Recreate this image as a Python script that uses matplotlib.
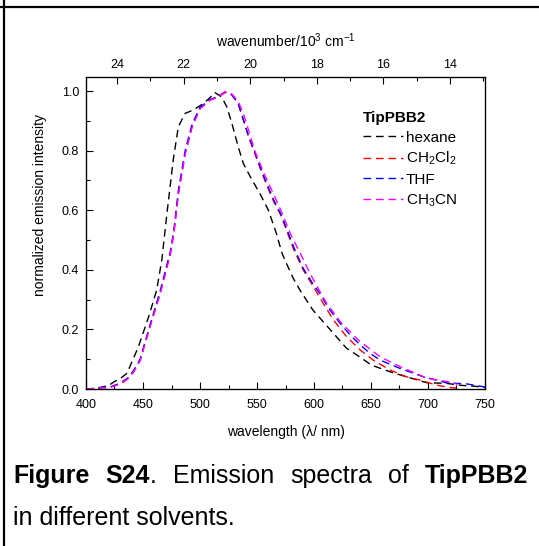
import matplotlib
matplotlib.use("Agg")
import matplotlib.pyplot as plt
from matplotlib.lines import Line2D
from matplotlib.ticker import MultipleLocator

plt.rcParams['font.family'] = ['Liberation Sans', 'DejaVu Sans']
plt.rcParams['mathtext.fontset'] = 'custom'
plt.rcParams['mathtext.rm'] = 'Liberation Sans'
plt.rcParams['mathtext.it'] = 'Liberation Sans:italic'
plt.rcParams['mathtext.bf'] = 'Liberation Sans:bold'

# ---------------- data ----------------
hex_wl = [400, 410, 420, 425, 430, 436, 446, 455, 462, 466.5, 471, 476.5, 481, 487, 494,
          503, 508, 513, 519, 523.5, 528, 533.5, 538, 544, 552.5, 560, 567, 572, 576,
          582, 588, 599, 608, 617, 628.5, 640, 650.5, 666.5, 681, 699, 716, 730, 745, 750]
hex_int = [0.0, 0.003, 0.012, 0.025, 0.035, 0.053, 0.142, 0.243, 0.332, 0.433, 0.589, 0.768,
           0.88, 0.925, 0.936, 0.958, 0.975, 0.995, 0.98, 0.947, 0.891, 0.813, 0.757, 0.713,
           0.656, 0.60, 0.522, 0.455, 0.42, 0.37, 0.33, 0.265, 0.226, 0.187, 0.137, 0.108,
           0.08, 0.058, 0.041, 0.021, 0.019, 0.012, 0.008, 0.005]

dcm_wl = [400, 410, 415, 420, 425, 428, 432, 437, 442, 447.5, 456, 465, 474, 477, 481, 487,
          493, 500, 509, 516, 522, 528, 533.5, 538, 542.5, 548, 555.5, 564, 571.5, 582,
          590.5, 599.5, 608, 617, 628.5, 640.5, 652, 666.5, 681, 693, 707.5, 719, 725]
dcm_int = [0.0, 0.002, 0.005, 0.004, 0.012, 0.015, 0.02, 0.036, 0.06, 0.097, 0.209, 0.321,
           0.455, 0.522, 0.656, 0.791, 0.88, 0.942, 0.97, 0.98, 0.995, 0.987, 0.958, 0.903,
           0.847, 0.791, 0.713, 0.634, 0.578, 0.47, 0.40, 0.343, 0.288, 0.232, 0.176, 0.131,
           0.097, 0.064, 0.041, 0.03, 0.013, 0.005, 0.003]

thf_wl = [400, 410, 415, 420, 425, 430, 437, 442, 447.5, 456, 465, 474, 477, 481, 487, 493,
          500, 509, 516, 522, 528, 533.5, 538, 542.5, 548, 555.5, 564, 571.5, 582, 590.5,
          599.5, 605, 613, 623, 632, 640.5, 649, 658, 675.5, 696, 716, 734, 748, 750]
thf_int = [0.0, 0.002, 0.006, 0.005, 0.012, 0.02, 0.038, 0.063, 0.1, 0.213, 0.328, 0.462,
           0.53, 0.665, 0.80, 0.888, 0.945, 0.972, 0.982, 0.997, 0.987, 0.958, 0.905,
           0.85, 0.795, 0.718, 0.64, 0.582, 0.478, 0.405, 0.35, 0.321, 0.27, 0.22, 0.18,
           0.148, 0.12, 0.097, 0.069, 0.041, 0.021, 0.017, 0.008, 0.006]

acn_wl = [400, 410, 415, 420, 425, 430, 437, 442, 447.5, 456, 465, 474, 477, 481, 487, 493,
          500, 509, 516, 522, 528, 533.5, 538, 542.5, 548, 556, 565, 572, 580, 588, 596.5,
          604, 611, 623, 639, 658, 675.5, 699, 712, 722, 726]
acn_int = [0.0, 0.002, 0.004, 0.004, 0.01, 0.018, 0.035, 0.058, 0.095, 0.207, 0.318, 0.452,
           0.52, 0.652, 0.788, 0.878, 0.94, 0.97, 0.98, 0.998, 0.99, 0.965, 0.925, 0.87,
           0.80, 0.725, 0.65, 0.59, 0.515, 0.455, 0.388, 0.335, 0.288, 0.226, 0.164, 0.108,
           0.075, 0.036, 0.028, 0.021, 0.015]

series_labels = ['hexane', r'$\mathregular{CH_2Cl_2}$', 'THF', r'$\mathregular{CH_3CN}$']
series_colors = ['black', 'red', 'blue', 'magenta']
x_ticks = [400, 450, 500, 550, 600, 650, 700, 750]
y_ticks = [0.0, 0.2, 0.4, 0.6, 0.8, 1.0]
top_ticks = [24, 22, 20, 18, 16, 14]

# caption words: (text pieces, bold flags) -- pieces inside one word are joined without a gap
caption_words = [[('Figure', True)], [('S24', True), ('.', False)], [('Emission', False)],
                 [('spectra', False)], [('of', False)], [('TipPBB2', True)]]
caption_line2 = 'in different solvents.'

# ---------------- figure ----------------
W, H = 539, 546
fig = plt.figure(figsize=(W / 100, H / 100), dpi=100)
L, R, T, B = 86, 485, 77, 389
ax = fig.add_axes([L / W, 1 - B / H, (R - L) / W, (B - T) / H])

data = [(hex_wl, hex_int), (dcm_wl, dcm_int), (thf_wl, thf_int), (acn_wl, acn_int)]
for (x, y), lab, c in zip(data, series_labels, series_colors):
    ax.plot(x, y, color=c, lw=1.0, linestyle=(0, (5.5, 3.5)), label=lab)

ax.set_xlim(400, 750)
ax.set_ylim(0, 1.047)
ax.set_xticks(x_ticks)
ax.set_yticks(y_ticks)
ax.set_yticklabels([f"{v:.1f}" for v in y_ticks])
ax.xaxis.set_minor_locator(MultipleLocator(25))
ax.yaxis.set_minor_locator(MultipleLocator(0.1))
ax.tick_params(which='both', direction='in', labelsize=9, width=0.8, right=False, top=False)
ax.tick_params(axis='x', pad=7)
ax.tick_params(axis='y', pad=5)
ax.tick_params(which='major', length=5)
ax.tick_params(which='minor', length=3)
for s in ax.spines.values():
    s.set_linewidth(0.9)

ax.set_xlabel('wavelength (λ/ nm)', fontsize=10, labelpad=10)
ax.set_ylabel('normalized emission intensity', fontsize=10)
ax.yaxis.set_label_coords(-0.097, 0.59)

ax2 = ax.twiny()
ax2.set_xlim(24.93, 12.95)
ax2.set_xticks(top_ticks)
ax2.xaxis.set_minor_locator(MultipleLocator(1))
ax2.tick_params(which='both', direction='in', labelsize=9, width=0.8, pad=4)
ax2.tick_params(which='major', length=5)
ax2.tick_params(which='minor', length=3)
ax2.set_xlabel('wavenumber/10$^3$ cm$^{-1}$', fontsize=10, labelpad=9)

leg = ax.legend(loc='upper left', bbox_to_anchor=(0.694, 0.89), frameon=False,
                fontsize=11, handlelength=2.6, handletextpad=0.2, labelspacing=0.35,
                title='TipPBB2', title_fontproperties={'weight': 'bold', 'size': 11},
                alignment='left', borderaxespad=0, borderpad=0)

# ---------------- caption (justified first line) ----------------
cap_size = 18.0
x_left, x_right = 13.0, 528.0
y1 = 1 - 488 / H
renderer = fig.canvas.get_renderer()
word_artists = []
for word in caption_words:
    pieces = []
    for txt, b in word:
        t = fig.text(0, y1, txt, fontsize=cap_size, weight='bold' if b else 'normal',
                     va='bottom')
        pieces.append(t)
    word_artists.append(pieces)

widths = []
for pieces in word_artists:
    widths.append([p.get_window_extent(renderer).width for p in pieces])
total = sum(sum(w) for w in widths)
gap = (x_right - x_left - total) / (len(caption_words) - 1)
xc = x_left
for pieces, ws in zip(word_artists, widths):
    for p, w in zip(pieces, ws):
        p.set_x(xc / W)
        xc += w
    xc += gap

fig.text(x_left / W, 1 - 530 / H, caption_line2, fontsize=cap_size, va='bottom')

# ---------------- page frame ----------------
fig.add_artist(Line2D([0, 1], [1 - 6.5 / H, 1 - 6.5 / H], transform=fig.transFigure,
                      color='black', lw=1.6))
fig.add_artist(Line2D([3.5 / W, 3.5 / W], [0, 1], transform=fig.transFigure,
                      color='black', lw=1.6))

fig.savefig('out.png', dpi=100)
